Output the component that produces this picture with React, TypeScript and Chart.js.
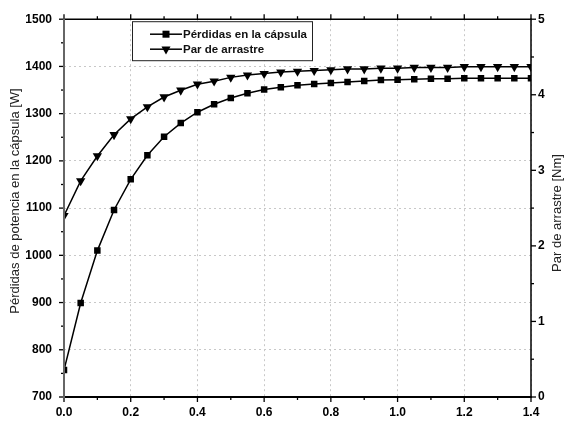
import React, { useEffect, useRef } from "react";
import { Chart, registerables } from "chart.js";

Chart.register(...registerables);

// ---- data ----
const xValues = [
  0, 0.05, 0.1, 0.15, 0.2, 0.25, 0.3, 0.35, 0.4, 0.45, 0.5, 0.55, 0.6, 0.65, 0.7,
  0.75, 0.8, 0.85, 0.9, 0.95, 1.0, 1.05, 1.1, 1.15, 1.2, 1.25, 1.3, 1.35, 1.4,
];
const lossesW = [
  757, 899, 1010, 1096, 1161, 1212, 1251, 1280, 1303, 1320, 1333, 1343, 1351, 1356, 1360,
  1363, 1365, 1367, 1369, 1371, 1372, 1373, 1374, 1374, 1375, 1375, 1375, 1375, 1375,
];
const torqueNm = [
  2.40, 2.86, 3.19, 3.47, 3.68, 3.84, 3.97, 4.06, 4.14, 4.18, 4.23, 4.26, 4.28, 4.30, 4.31,
  4.32, 4.33, 4.34, 4.34, 4.35, 4.35, 4.36, 4.36, 4.36, 4.37, 4.37, 4.37, 4.37, 4.37,
];
const seriesNames = ["Pérdidas en la cápsula", "Par de arrastre"];
const leftTitle = "Pérdidas de potencia en la cápsula [W]";
const rightTitle = "Par de arrastre [Nm]";

// axis definitions
const xRange = [0, 1.4];
const xMajor = 0.2;
const xMinor = 0.1;
const yRange = [700, 1500];
const yMajor = 100;
const yMinor = 50;
const y2Range = [0, 5];
const y2Major = 1;
const y2Minor = 0.5;

const FONT = "'Liberation Sans', Arial, sans-serif";

function ticksBetween(min: number, max: number, step: number): number[] {
  const out: number[] = [];
  const n = Math.round((max - min) / step);
  for (let i = 0; i <= n; i++) out.push(min + i * step);
  return out;
}

const framePlugin = {
  id: "frame",
  afterDraw(chart: any) {
    const ctx = chart.ctx;
    const { left, right, top, bottom } = chart.chartArea;
    const xs = chart.scales.x;
    const ys = chart.scales.y;
    const y2s = chart.scales.y2;
    ctx.save();
    ctx.strokeStyle = "#000";
    ctx.lineCap = "butt";
    const line = (x1: number, y1: number, x2: number, y2: number, w: number, c = "#000") => {
      ctx.beginPath();
      ctx.lineWidth = w;
      ctx.strokeStyle = c;
      ctx.moveTo(x1, y1);
      ctx.lineTo(x2, y2);
      ctx.stroke();
    };
    // ticks
    ticksBetween(xRange[0], xRange[1], xMinor).forEach((v, i) => {
      const px = xs.getPixelForValue(v);
      const len = i % 2 === 0 ? 5 : 3;
      line(px, bottom, px, bottom + len, 1.3);
      line(px, top, px, top - len, 1.3);
    });
    ticksBetween(yRange[0], yRange[1], yMinor).forEach((v, i) => {
      const py = ys.getPixelForValue(v);
      const len = i % 2 === 0 ? 5 : 3;
      line(left - len, py, left, py, 1.3);
    });
    ticksBetween(y2Range[0], y2Range[1], y2Minor).forEach((v, i) => {
      const py = y2s.getPixelForValue(v);
      const len = i % 2 === 0 ? 5 : 3;
      line(right, py, right + len, py, 1.3);
    });
    // frame
    line(left, top, right, top, 1.5);
    line(right, top - 0.75, right, bottom + 0.75, 1.5);
    line(left - 1, bottom, right + 0.75, bottom, 2);
    line(left, top - 0.75, left, bottom + 1, 2, "#666");

    // axis titles
    ctx.fillStyle = "#222";
    ctx.font = `13px ${FONT}`;
    ctx.textAlign = "center";
    ctx.textBaseline = "middle";
    ctx.save();
    ctx.translate(15, 201);
    ctx.rotate(-Math.PI / 2);
    ctx.fillText(leftTitle, 0, 0);
    ctx.restore();
    ctx.save();
    ctx.translate(557, 213);
    ctx.rotate(-Math.PI / 2);
    ctx.fillText(rightTitle, 0, 0);
    ctx.restore();

    // legend
    const bx = left + 68;
    const by = top + 2;
    const bw = 180;
    const bh = 39;
    ctx.fillStyle = "#fff";
    ctx.fillRect(bx, by, bw, bh);
    ctx.lineWidth = 1;
    ctx.strokeStyle = "#222";
    ctx.strokeRect(bx + 0.5, by + 0.5, bw, bh);
    const rows = [by + 13, by + 28];
    rows.forEach((ry, i) => {
      line(bx + 18, ry, bx + 50, ry, 1.5);
      ctx.fillStyle = "#000";
      const cx = bx + 34;
      if (i === 0) {
        ctx.fillRect(cx - 3.5, ry - 3.5, 7, 7);
      } else {
        const r = 5.2;
        ctx.beginPath();
        ctx.moveTo(cx, ry + r);
        ctx.lineTo(cx - r * 0.866, ry - r * 0.5);
        ctx.lineTo(cx + r * 0.866, ry - r * 0.5);
        ctx.closePath();
        ctx.fill();
      }
      ctx.font = `bold 11.5px ${FONT}`;
      ctx.textAlign = "left";
      ctx.textBaseline = "middle";
      ctx.fillStyle = "#111";
      ctx.fillText(seriesNames[i], bx + 51, ry + 0.5);
    });
    ctx.restore();
  },
};

export default function App() {
  const ref = useRef<HTMLCanvasElement | null>(null);
  useEffect(() => {
    document.body.style.margin = "0";
    const canvas = ref.current;
    if (!canvas) return;
    const tickFont = { family: FONT, size: 12, weight: "bold" as const };
    const chart = new Chart(canvas, {
      type: "line",
      data: {
        datasets: [
          {
            label: seriesNames[0],
            data: xValues.map((x, i) => ({ x, y: lossesW[i] })),
            yAxisID: "y",
            borderColor: "#000",
            backgroundColor: "#000",
            borderWidth: 1.5,
            pointStyle: "rect",
            pointRadius: 4.6,
            pointBorderWidth: 0,
            pointBackgroundColor: "#000",
            tension: 0,
          },
          {
            label: seriesNames[1],
            data: xValues.map((x, i) => ({ x, y: torqueNm[i] })),
            yAxisID: "y2",
            borderColor: "#000",
            backgroundColor: "#000",
            borderWidth: 1.5,
            pointStyle: "triangle",
            rotation: 180,
            pointRadius: 5.4,
            pointBorderWidth: 0,
            pointBackgroundColor: "#000",
            tension: 0,
          },
        ],
      },
      options: {
        responsive: false,
        animation: false,
        layout: { padding: { top: 17, left: 0, right: 0, bottom: 0 } },
        plugins: { legend: { display: false }, tooltip: { enabled: false } },
        scales: {
          x: {
            type: "linear",
            min: xRange[0],
            max: xRange[1],
            afterFit: (s: any) => {
              s.height = 31;
            },
            afterBuildTicks: (s: any) => {
              s.ticks = ticksBetween(xRange[0], xRange[1], xMajor).map((v) => ({ value: v }));
            },
            ticks: {
              font: tickFont,
              color: "#000",
              padding: 8,
              maxRotation: 0,
              callback: (v: any) => Number(v).toFixed(1),
            },
            grid: { color: "#c8c8c8", lineWidth: 1, drawTicks: false },
            border: { display: false, dash: [2, 3] },
          },
          y: {
            type: "linear",
            position: "left",
            min: yRange[0],
            max: yRange[1],
            afterFit: (s: any) => {
              s.width = 64;
            },
            ticks: {
              stepSize: yMajor,
              font: tickFont,
              color: "#000",
              padding: 12,
              callback: (v: any) => String(Math.round(Number(v))),
            },
            grid: { color: "#c8c8c8", lineWidth: 1, drawTicks: false },
            border: { display: false, dash: [2, 3] },
          },
          y2: {
            type: "linear",
            position: "right",
            min: y2Range[0],
            max: y2Range[1],
            afterFit: (s: any) => {
              s.width = 41;
            },
            ticks: {
              stepSize: y2Major,
              font: tickFont,
              color: "#000",
              padding: 7,
              callback: (v: any) => String(Math.round(Number(v))),
            },
            grid: { drawOnChartArea: false, drawTicks: false },
            border: { display: false },
          },
        },
      },
      plugins: [framePlugin],
    });
    return () => chart.destroy();
  }, []);
  return (
    <div style={{ position: "fixed", left: 0, top: 0, width: 572, height: 428, background: "#fff" }}>
      <canvas ref={ref} width={572} height={428} style={{ display: "block" }} />
    </div>
  );
}
